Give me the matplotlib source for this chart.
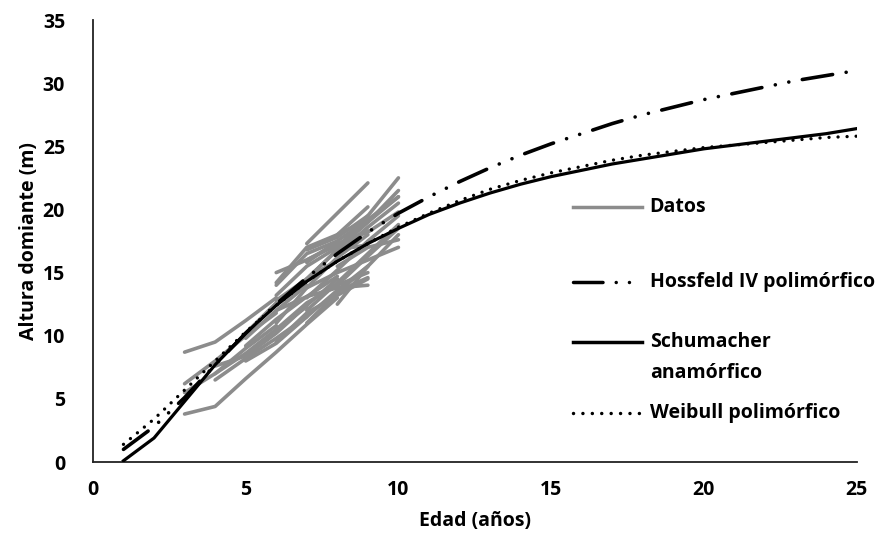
import numpy as np
import matplotlib
matplotlib.use('Agg')
import matplotlib.pyplot as plt

plt.rcParams['font.family'] = ['Open Sans', 'DejaVu Sans']
plt.rcParams['font.weight'] = 'bold'

# Datos observados: edad inicial de cada parcela y alturas en años consecutivos
datos_edad_inicio = [3, 3, 3, 3, 4, 4, 5, 5, 6, 6, 6, 6, 6, 7, 7, 7, 7, 7,
                     8, 8, 8, 8, 8, 6, 7, 5, 6, 8, 7, 8, 4, 5, 6, 7, 6, 7]
datos_alturas = [
    [8.7, 9.5, 11.2, 13.0],
    [3.8, 4.4, 6.6, 8.7, 10.9, 13.0],
    [6.2, 8.0, 10.0, 11.8],
    [5.5, 7.0, 8.6, 10.5, 12.3],
    [7.6, 8.4, 10.2, 12.4, 14.5],
    [6.5, 8.2, 9.8, 11.5],
    [8.0, 9.4, 11.5, 13.6, 15.5],
    [9.2, 11.3, 13.1, 14.7],
    [12.0, 13.1, 13.8, 14.0],
    [15.0, 16.0, 17.2, 18.3],
    [13.2, 15.5, 17.0, 19.0, 21.0],
    [9.5, 11.8, 13.2, 14.5],
    [10.5, 12.6, 14.0, 15.0],
    [17.3, 19.7, 22.1],
    [14.5, 16.8, 19.0, 21.5],
    [13.0, 15.2, 17.5, 19.5],
    [11.0, 13.4, 15.5],
    [16.0, 17.3, 18.2, 19.8],
    [17.0, 19.5, 22.5],
    [14.0, 16.3, 18.5],
    [15.5, 17.0, 17.6],
    [16.5, 18.6, 20.5],
    [12.5, 15.5, 18.0],
    [11.0, 13.8, 16.2, 18.0],
    [15.8, 17.5, 19.2],
    [10.2, 12.6, 14.5, 16.0],
    [14.0, 16.5, 17.5],
    [13.5, 14.6],
    [12.0, 14.2, 16.5, 18.8],
    [18.0, 19.2, 21.0],
    [7.0, 9.0, 10.8],
    [9.8, 12.0, 14.0],
    [14.2, 17.0, 18.0, 20.2],
    [16.8, 17.8, 19.5],
    [12.8, 14.5, 16.8, 17.2],
    [13.8, 15.0, 16.0, 17.0],
]

# Curvas ajustadas (edad 1 a 25)
edad = list(range(1, 26))
hossfeld = [1.0, 2.8, 5.1, 7.7, 10.2, 12.5, 14.6, 16.5, 18.2, 19.7, 21.0, 22.2,
            23.3, 24.3, 25.2, 26.0, 26.8, 27.5, 28.1, 28.7, 29.2, 29.7, 30.2,
            30.6, 31.0]
schumacher = [0.1, 1.9, 4.8, 7.7, 10.2, 12.4, 14.3, 15.9, 17.3, 18.5, 19.6,
              20.5, 21.3, 22.0, 22.6, 23.1, 23.6, 24.0, 24.4, 24.8, 25.1, 25.4,
              25.7, 26.0, 26.4]
weibull = [1.4, 3.4, 5.7, 8.0, 10.3, 12.4, 14.3, 15.9, 17.3, 18.6, 19.7, 20.7,
           21.6, 22.3, 22.9, 23.4, 23.9, 24.3, 24.6, 24.9, 25.1, 25.3, 25.5,
           25.7, 25.8]

gris = '#8c8c8c'
fs = 14
fig = plt.figure(figsize=(8.85, 5.44), dpi=100)
ax = fig.add_axes([0.105, 0.1507, 0.863, 0.8125])

for e0, alt in zip(datos_edad_inicio, datos_alturas):
    ax.plot(range(e0, e0 + len(alt)), alt, color=gris, lw=2.6,
            solid_capstyle='round', zorder=2)

ls_hoss = (0, (8.5, 3.8, 0.01, 3.8, 0.01, 3.8))
ls_weib = (0, (0.01, 2.7))
ax.plot(edad, hossfeld, color='black', lw=2.6, ls=ls_hoss,
        dash_capstyle='round', zorder=3)
ax.plot(edad, schumacher, color='black', lw=2.3, zorder=3)
ax.plot(edad, weibull, color='black', lw=2.4, ls=ls_weib,
        dash_capstyle='round', zorder=3)

ax.set_xlim(0, 25)
ax.set_ylim(0, 35)
ax.set_xticks(range(0, 26, 5))
ax.set_yticks(range(0, 36, 5))
for s in ['top', 'right']:
    ax.spines[s].set_visible(False)
for s in ['left', 'bottom']:
    ax.spines[s].set_linewidth(1.3)
    ax.spines[s].set_color('#222222')
ax.tick_params(length=0, labelsize=fs, pad=20)
ax.tick_params(axis='x', pad=13)
ax.set_xlabel('Edad (años)', fontsize=fs, fontweight='bold', labelpad=8)
ax.set_ylabel('Altura domiante (m)', fontsize=fs, fontweight='bold', labelpad=3)

# leyenda a mano
leg = [('Datos', gris, '-', 0.577),
       ('Hossfeld IV polimórfico', 'black', ls_hoss, 0.407),
       ('Schumacher', 'black', '-', 0.271),
       ('Weibull polimórfico', 'black', ls_weib, 0.111)]
for txt, c, ls, y in leg:
    ax.plot([0.628, 0.719], [y, y], transform=ax.transAxes, color=c,
            ls=ls, lw=2.5, dash_capstyle='round', clip_on=False)
    ax.text(0.729, y, txt, transform=ax.transAxes, fontsize=fs,
            fontweight='bold', va='center', ha='left')
ax.text(0.729, 0.201, 'anamórfico', transform=ax.transAxes, fontsize=fs,
        fontweight='bold', va='center', ha='left')

fig.savefig('out.png', dpi=100)
